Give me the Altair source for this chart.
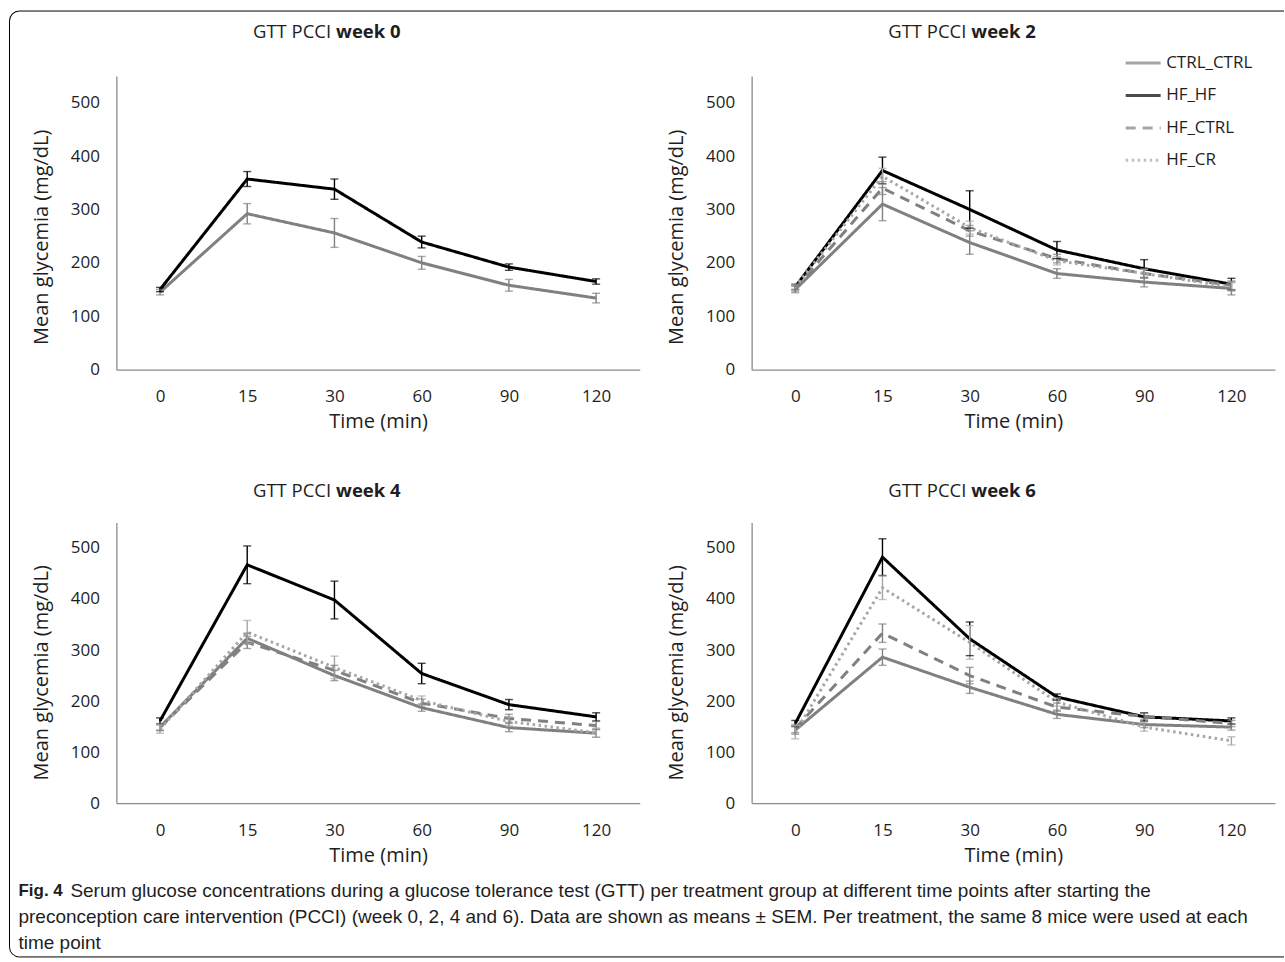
import altair as alt
import pandas as pd

# ---------------- data ----------------
times = ["0", "15", "30", "60", "90", "120"]
groups = ["CTRL_CTRL", "HF_HF", "HF_CTRL", "HF_CR"]
weeks = ["week 0", "week 2", "week 4", "week 6"]

# week 0
w0_ctrl_ctrl = [145, 292, 256, 200, 158, 134]
w0_ctrl_ctrl_sem = [5, 19, 27, 12, 11, 9]
w0_hf_hf = [150, 357, 338, 239, 192, 165]
w0_hf_hf_sem = [4, 14, 19, 11, 6, 5]

# week 2
w2_ctrl_ctrl = [150, 310, 238, 180, 164, 152]
w2_ctrl_ctrl_sem = [6, 31, 22, 9, 9, 12]
w2_hf_hf = [155, 373, 300, 224, 189, 160]
w2_hf_hf_sem = [5, 25, 35, 16, 17, 11]
w2_hf_ctrl = [152, 340, 260, 208, 180, 158]
w2_hf_ctrl_sem = [5, 12, 10, 8, 8, 8]
w2_hf_cr = [155, 362, 266, 204, 180, 155]
w2_hf_cr_sem = [5, 15, 12, 8, 8, 8]

# week 4
w4_ctrl_ctrl = [149, 323, 250, 187, 148, 137]
w4_ctrl_ctrl_sem = [6, 10, 10, 7, 8, 8]
w4_hf_hf = [161, 467, 398, 254, 193, 169]
w4_hf_hf_sem = [6, 37, 37, 20, 10, 8]
w4_hf_ctrl = [148, 315, 260, 196, 166, 152]
w4_hf_ctrl_sem = [6, 12, 10, 8, 8, 8]
w4_hf_cr = [145, 335, 266, 201, 160, 138]
w4_hf_cr_sem = [8, 23, 22, 9, 9, 9]

# week 6
w6_ctrl_ctrl = [143, 286, 227, 174, 154, 149]
w6_ctrl_ctrl_sem = [8, 16, 12, 8, 6, 6]
w6_hf_hf = [156, 482, 322, 208, 169, 161]
w6_hf_hf_sem = [6, 36, 33, 6, 8, 6]
w6_hf_ctrl = [146, 333, 250, 188, 170, 156]
w6_hf_ctrl_sem = [8, 18, 16, 8, 6, 6]
w6_hf_cr = [139, 422, 315, 198, 149, 122]
w6_hf_cr_sem = [13, 23, 33, 8, 8, 8]

caption_bold = "Fig. 4"
caption_lines = [
    "Serum glucose concentrations during a glucose tolerance test (GTT) per treatment group at different time points after starting the",
    "preconception care intervention (PCCI) (week 0, 2, 4 and 6). Data are shown as means \u00b1 SEM. Per treatment, the same 8 mice were used at each",
    "time point",
]

# ---------------- styling ----------------
colors = ["#808080", "#000000", "#808080", "#a6a6a6"]
dashes = [[1, 0], [1, 0], [10, 7], [2.5, 3.5]]
FONT = "Open Sans"
CAP_FONT = "Liberation Sans"
TXT = "#1e1e1e"

series = {
    "week 0": {"CTRL_CTRL": (w0_ctrl_ctrl, w0_ctrl_ctrl_sem), "HF_HF": (w0_hf_hf, w0_hf_hf_sem)},
    "week 2": {"CTRL_CTRL": (w2_ctrl_ctrl, w2_ctrl_ctrl_sem), "HF_HF": (w2_hf_hf, w2_hf_hf_sem),
               "HF_CTRL": (w2_hf_ctrl, w2_hf_ctrl_sem), "HF_CR": (w2_hf_cr, w2_hf_cr_sem)},
    "week 4": {"CTRL_CTRL": (w4_ctrl_ctrl, w4_ctrl_ctrl_sem), "HF_HF": (w4_hf_hf, w4_hf_hf_sem),
               "HF_CTRL": (w4_hf_ctrl, w4_hf_ctrl_sem), "HF_CR": (w4_hf_cr, w4_hf_cr_sem)},
    "week 6": {"CTRL_CTRL": (w6_ctrl_ctrl, w6_ctrl_ctrl_sem), "HF_HF": (w6_hf_hf, w6_hf_hf_sem),
               "HF_CTRL": (w6_hf_ctrl, w6_hf_ctrl_sem), "HF_CR": (w6_hf_cr, w6_hf_cr_sem)},
}

rows = []
for wk in weeks:
    for g in groups:
        if g not in series[wk]:
            continue
        m, s = series[wk][g]
        for t, mv, sv in zip(times, m, s):
            rows.append({"week": wk, "group": g, "time": t, "mean": mv, "lo": mv - sv, "hi": mv + sv})
df = pd.DataFrame(rows)

PW = 524
legend = alt.Legend(
    title=None, orient="none", legendX=1009, legendY=-32,
    symbolType="stroke", symbolSize=1225, symbolStrokeWidth=3,
    labelFont=FONT, labelFontSize=17, labelColor=TXT, labelOffset=4,
    rowPadding=5.5,
)


def panel(wk, height, title_y, ytitle_y, extra=()):
    d = df[df["week"] == wk]
    base = alt.Chart(d)
    xs = alt.Scale(type="point", domain=times, padding=0.5)
    xa = alt.Axis(title="Time (min)", labelAngle=0)
    ys = alt.Scale(domain=[0, 550], nice=False)
    ya = alt.Axis(title="Mean glycemia (mg/dL)", values=[0, 100, 200, 300, 400, 500], titleY=ytitle_y)
    x = alt.X("time:N", sort=times, scale=xs, axis=xa)
    color = alt.Color("group:N", scale=alt.Scale(domain=groups, range=colors), legend=legend)
    dash = alt.StrokeDash("group:N", scale=alt.Scale(domain=groups, range=dashes), legend=legend)
    lines = base.mark_line(strokeWidth=3).encode(
        x=x, y=alt.Y("mean:Q", scale=ys, axis=ya), color=color, strokeDash=dash)
    bars = base.mark_rule(strokeWidth=1.4).encode(
        x=x, y=alt.Y("lo:Q", scale=ys, axis=ya), y2="hi:Q", color=color)
    cap_lo = base.mark_tick(size=8, thickness=1.4).encode(
        x=x, y=alt.Y("lo:Q", scale=ys, axis=ya), color=color)
    cap_hi = base.mark_tick(size=8, thickness=1.4).encode(
        x=x, y=alt.Y("hi:Q", scale=ys, axis=ya), color=color)
    t1 = alt.Chart(pd.DataFrame({"t": ["GTT PCCI"]})).mark_text(
        align="right", baseline="middle", font=FONT, fontSize=18.5, color=TXT
    ).encode(text="t:N", x=alt.value(215), y=alt.value(title_y))
    t2 = alt.Chart(pd.DataFrame({"t": [wk]})).mark_text(
        align="left", baseline="middle", font=FONT, fontSize=18.5, fontWeight="bold", color=TXT
    ).encode(text="t:N", x=alt.value(220), y=alt.value(title_y))
    return alt.layer(lines, bars, cap_lo, cap_hi, t1, t2, *extra).properties(width=PW, height=height)


# border of the figure (decorative frame), relative to panel 1 plot origin
one_row = pd.DataFrame({"k": [0]})
frame = [
    alt.Chart(one_row).mark_rule(color="#000", strokeWidth=1).encode(
        x=alt.value(-97), x2=alt.value(1169), y=alt.value(-65)),
    alt.Chart(one_row).mark_rule(color="#000", strokeWidth=1).encode(
        x=alt.value(-107), y=alt.value(-55), y2=alt.value(872)),
    alt.Chart(one_row).mark_rule(color="#000", strokeWidth=1).encode(
        x=alt.value(-97), x2=alt.value(1169), y=alt.value(882)),
    alt.Chart(one_row).mark_arc(color="#000", theta=4.7124, theta2=6.2832, radius=10.5, radius2=9.5).encode(
        x=alt.value(-97), y=alt.value(-55)),
    alt.Chart(one_row).mark_arc(color="#000", theta=3.1416, theta2=4.7124, radius=10.5, radius2=9.5).encode(
        x=alt.value(-97), y=alt.value(872)),
]

CAP_SIZE = 19.0
cap = [
    alt.Chart(pd.DataFrame({"t": [caption_bold]})).mark_text(
        align="left", baseline="middle", font=CAP_FONT, fontSize=17, fontWeight="bold", color=TXT
    ).encode(text="t:N", x=alt.value(-98), y=alt.value(369)),
    alt.Chart(pd.DataFrame({"t": [caption_lines[0]]})).mark_text(
        align="left", baseline="middle", font=CAP_FONT, fontSize=CAP_SIZE, color=TXT
    ).encode(text="t:N", x=alt.value(-46), y=alt.value(369)),
    alt.Chart(pd.DataFrame({"t": [caption_lines[1]]})).mark_text(
        align="left", baseline="middle", font=CAP_FONT, fontSize=CAP_SIZE, color=TXT
    ).encode(text="t:N", x=alt.value(-98), y=alt.value(395)),
    alt.Chart(pd.DataFrame({"t": [caption_lines[2]]})).mark_text(
        align="left", baseline="middle", font=CAP_FONT, fontSize=CAP_SIZE, color=TXT
    ).encode(text="t:N", x=alt.value(-98), y=alt.value(421)),
]

p1 = panel("week 0", 294, -44, 161, frame)
p2 = panel("week 2", 294, -44, 161)
p3 = panel("week 4", 281, -31, 150, cap)
p4 = panel("week 6", 281, -31, 150)

chart = alt.concat(
    p1, p2, p3, p4, columns=2, spacing={"row": 153, "column": 112}, bounds="flush", align="each"
).properties(
    padding={"left": 8.5, "top": 9.5, "right": 0, "bottom": 0}
).configure_view(stroke=None).configure_axis(
    grid=False, ticks=False, tickSize=0, domainColor="#8c8c8c", domainWidth=1.3,
    labelFont=FONT, labelFontSize=17, labelColor=TXT,
    titleFont=FONT, titleFontSize=20, titleFontWeight="normal", titleColor=TXT,
).configure_axisX(labelPadding=19, titlePadding=7).configure_axisY(labelPadding=17, titlePadding=19)

chart.save("out.html", embed_options={"renderer": "svg", "actions": False})
